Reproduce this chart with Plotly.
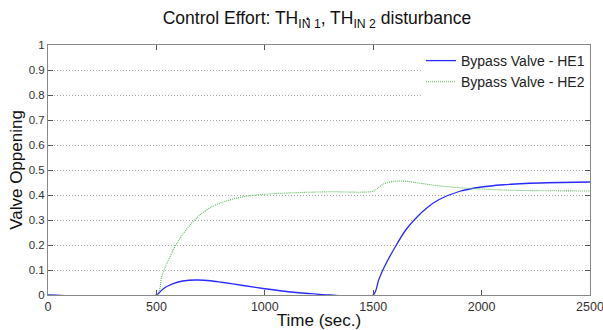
import plotly.graph_objects as go

# HE1 bypass valve
t_he1 = [0, 500, 525, 550, 600, 650, 690, 750, 800, 900, 1000, 1100, 1200, 1300, 1500,
         1525, 1550, 1600, 1650, 1700, 1750, 1800, 1900, 2000, 2100, 2200, 2300, 2500]
v_he1 = [0, 0, 0.02, 0.035, 0.052, 0.059, 0.06, 0.057, 0.051, 0.038, 0.025, 0.014, 0.006, 0.0, 0.0,
         0.06, 0.11, 0.19, 0.26, 0.31, 0.35, 0.38, 0.415, 0.432, 0.441, 0.446, 0.449, 0.452]

# HE2 bypass valve
t_he2 = [0, 500, 525, 550, 575, 600, 650, 700, 750, 800, 900, 1000, 1100, 1200, 1300, 1500,
         1525, 1550, 1600, 1650, 1700, 1800, 1900, 2000, 2100, 2200, 2300, 2500]
v_he2 = [0, 0, 0.075, 0.13, 0.175, 0.215, 0.275, 0.32, 0.35, 0.37, 0.393, 0.403, 0.408, 0.411, 0.413, 0.415,
         0.43, 0.445, 0.455, 0.455, 0.449, 0.437, 0.429, 0.424, 0.42, 0.418, 0.417, 0.416]

x_ticks = [0, 500, 1000, 1500, 2000, 2500]
y_ticks = [0, 0.1, 0.2, 0.3, 0.4, 0.5, 0.6, 0.7, 0.8, 0.9, 1]
y_tick_labels = ["0", "0.1", "0.2", "0.3", "0.4", "0.5", "0.6", "0.7", "0.8", "0.9", "1"]

FONT = "Liberation Sans, Arial, sans-serif"

fig = go.Figure()
fig.add_trace(go.Scatter(x=t_he1, y=v_he1, mode="lines", name="Bypass Valve - HE1",
                         line=dict(color="#2a2aff", width=1.3, shape="spline", smoothing=0.8)))
fig.add_trace(go.Scatter(x=t_he2, y=v_he2, mode="lines", name="Bypass Valve - HE2",
                         line=dict(color="#5cb85c", width=1.1, dash="1px,1px", shape="spline", smoothing=0.8)))

fig.update_layout(
    width=603, height=330,
    margin=dict(l=48, r=13, t=45, b=35),
    paper_bgcolor="white", plot_bgcolor="white",
    font=dict(family=FONT, color="#222"),
    title=dict(text="Control Effort: TH<sub>IN 1</sub>, TH<sub>IN 2</sub> disturbance",
               x=317 / 603, xanchor="center", xref="container",
               y=1 - 18 / 330, yanchor="middle", yref="container",
               font=dict(size=17.5, color="#111")),
    showlegend=True,
    legend=dict(x=1, y=1.0, xanchor="right", yanchor="top", bgcolor="white",
                borderwidth=0, font=dict(size=14, color="#222"),
                tracegroupgap=0, itemwidth=30),
    xaxis=dict(range=[0, 2500], tickvals=x_ticks, ticks="inside", ticklen=5,
               tickcolor="#555", showline=True, linecolor="#888", linewidth=1,
               mirror="allticks", showgrid=False, zeroline=False, automargin=False,
               ticklabeloverflow="allow",
               tickfont=dict(size=12.5, color="#333"),
               title=dict(text="Time (sec.)", font=dict(size=17, color="#111"), standoff=0)),
    yaxis=dict(range=[0, 1], tickvals=y_ticks, ticktext=y_tick_labels, ticks="inside", ticklen=5,
               tickcolor="#555", showline=True, linecolor="#888", linewidth=1,
               mirror="allticks", showgrid=True, gridcolor="#aaaaaa", griddash="1px,2px",
               gridwidth=1, zeroline=False, automargin=False,
               tickfont=dict(size=11.5, color="#333"),
               title=dict(text="Valve Oppening", font=dict(size=17, color="#111"), standoff=1)),
)

fig.add_annotation(text="•", x=(307 - 48) / 542, y=(295 - 12) / 250, xref="paper", yref="paper",
                   showarrow=False, font=dict(size=9, color="#111"))

fig.write_html("out.html", config={"displayModeBar": False},
               post_script="document.body.style.margin='0px';")
